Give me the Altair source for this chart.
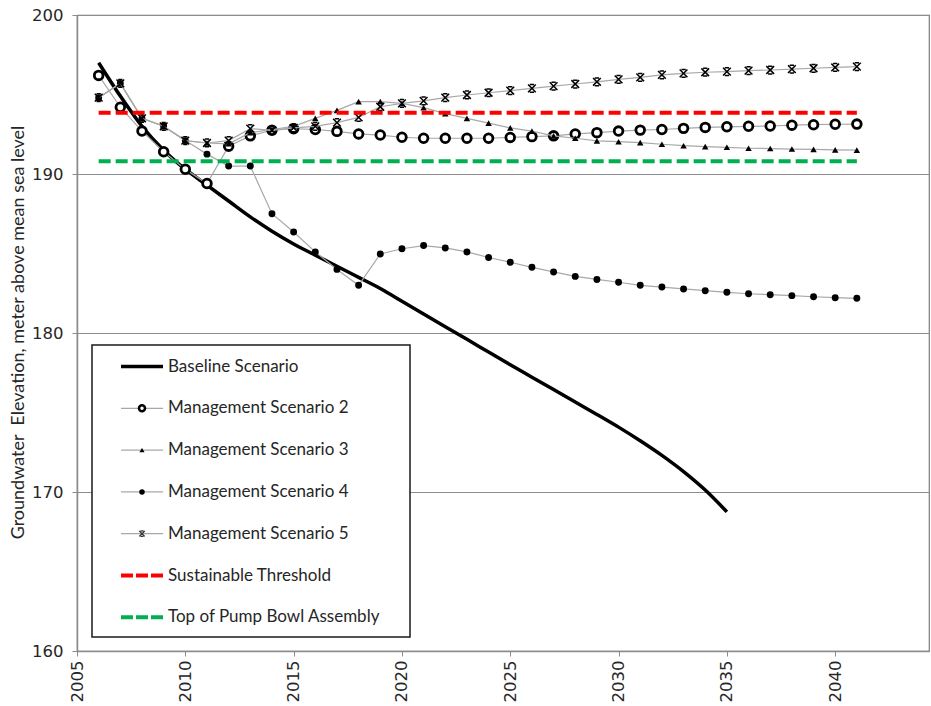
import altair as alt
import pandas as pd

# ---------------------------------------------------------------- data
years = list(range(2006, 2042))
baseline_years = list(range(2006, 2036))

baseline = [197.0, 194.9, 193.0, 191.5, 190.3, 189.3, 188.3, 187.3, 186.4, 185.6,
            184.9, 184.2, 183.5, 182.8, 182.0, 181.2, 180.4, 179.6, 178.8, 178.0,
            177.22, 176.44, 175.66, 174.88, 174.08, 173.22, 172.3, 171.28, 170.12, 168.75]

scenario2 = [196.2, 194.2, 192.7, 191.4, 190.3, 189.4, 191.75, 192.4, 192.75, 192.85,
             192.8, 192.68, 192.52, 192.45, 192.31, 192.25, 192.25, 192.25, 192.25, 192.3,
             192.35, 192.4, 192.52, 192.6, 192.7, 192.76, 192.8, 192.87, 192.93, 192.97,
             193.0, 193.02, 193.07, 193.1, 193.13, 193.14]

scenario3 = [194.8, 195.7, 193.5, 193.0, 192.1, 191.95, 191.9, 192.6, 192.8, 193.0,
             193.5, 194.0, 194.55, 194.55, 194.44, 194.17, 193.8, 193.5, 193.2, 192.9,
             192.7, 192.4, 192.25, 192.08, 192.03, 191.97, 191.87, 191.78, 191.72, 191.68,
             191.62, 191.6, 191.57, 191.55, 191.52, 191.5]

scenario4 = [194.8, 195.7, 193.5, 193.0, 192.1, 191.25, 190.5, 190.5, 187.5, 186.35,
             185.1, 184.0, 183.0, 184.97, 185.3, 185.5, 185.35, 185.1, 184.75, 184.45,
             184.13, 183.84, 183.56, 183.37, 183.19, 183.0, 182.89, 182.77, 182.66, 182.56,
             182.47, 182.41, 182.35, 182.28, 182.22, 182.18]

scenario5 = [194.8, 195.7, 193.5, 193.0, 192.1, 191.95, 192.1, 192.85, 192.75, 192.9,
             193.0, 193.23, 193.56, 194.23, 194.44, 194.6, 194.8, 194.97, 195.11, 195.24,
             195.39, 195.53, 195.66, 195.8, 195.95, 196.08, 196.23, 196.33, 196.4, 196.44,
             196.5, 196.54, 196.6, 196.65, 196.7, 196.75]

threshold_years = [2006, 2041]
sustainable_threshold = 193.85
pump_bowl_top = 190.8

x_ticks = [2005, 2010, 2015, 2020, 2025, 2030, 2035, 2040]
y_ticks = [160, 170, 180, 190, 200]

y_title = "Groundwater\u00a0 Elevation, meter above mean sea level"
legend_labels = ["Baseline Scenario", "Management Scenario 2", "Management Scenario 3",
                 "Management Scenario 4", "Management Scenario 5",
                 "Sustainable Threshold", "Top of Pump Bowl Assembly"]

# ---------------------------------------------------------------- styling
FONT = "Lato"
TICK_FONT = "DejaVu Sans"
TEXT = "#262626"
GRID = "#8c8c8c"
SERIES_LINE = "#a8a8a8"
RED = "#ff0000"
GREEN = "#00b050"
X_MARK = "M-1,-1L1,1M-1,1L1,-1M-0.55,-1H0.55M-0.55,1H0.55"

x_enc = alt.X("year:Q",
              scale=alt.Scale(domain=[2005, 2044.33], nice=False, zero=False),
              axis=alt.Axis(values=x_ticks, format="d", labelAngle=-90, grid=False,
                            title=None, labelFont=TICK_FONT, labelFontSize=16.5,
                            labelColor=TEXT, domainColor=GRID, domainWidth=1.5,
                            tickColor=GRID, tickSize=5, labelPadding=4,
                            labelBaseline="middle", labelAlign="right"))
y_enc = alt.Y("value:Q",
              scale=alt.Scale(domain=[160, 200], nice=False, zero=False),
              axis=alt.Axis(values=y_ticks, grid=True, gridColor=GRID, gridWidth=1,
                            title=y_title,
                            titleFont=FONT, titleFontSize=18, titleFontWeight="normal",
                            titleColor=TEXT, titleAngle=-90, titleX=-59, titleY=317,
                            titleAlign="center", titleBaseline="middle",
                            labelFont=TICK_FONT, labelFontSize=16.5, labelColor=TEXT,
                            domainColor=GRID, domainWidth=1.5, tickColor=GRID,
                            tickSize=5, labelPadding=9))


def frame(xs, ys):
    return pd.DataFrame({"year": xs, "value": ys})


layers = []

# baseline
layers.append(alt.Chart(frame(baseline_years, baseline)).mark_line(
    color="black", strokeWidth=3.5, interpolate="monotone").encode(x=x_enc, y=y_enc))

# management scenarios: thin grey line with black markers
scenario_marks = [
    (scenario2, dict(shape="circle", size=75, filled=False, stroke="black",
                     fill="white", fillOpacity=1, strokeWidth=2.8)),
    (scenario3, dict(shape="triangle-up", size=42, filled=True, color="black")),
    (scenario4, dict(shape="circle", size=48, filled=True, color="black")),
    (scenario5, dict(shape=X_MARK, size=60, filled=False, stroke="black",
                     strokeWidth=1.5)),
]
for values, marker in scenario_marks:
    base = alt.Chart(frame(years, values))
    layers.append(base.mark_line(color=SERIES_LINE, strokeWidth=1.2).encode(x=x_enc, y=y_enc))
    layers.append(base.mark_point(opacity=1, **marker).encode(x=x_enc, y=y_enc))

# threshold lines
for level, colour in [(sustainable_threshold, RED), (pump_bowl_top, GREEN)]:
    layers.append(alt.Chart(frame(threshold_years, [level, level])).mark_line(
        color=colour, strokeWidth=4, strokeDash=[12, 5], strokeCap="butt").encode(x=x_enc, y=y_enc))

# ---------------------------------------------------------------- legend box
one = pd.DataFrame({"k": [0]})
layers.append(alt.Chart(one).mark_rect(fill="white", stroke="#1a1a1a", strokeWidth=1.5).encode(
    x=alt.value(15), x2=alt.value(333), y=alt.value(330), y2=alt.value(622)))

row_y = [351.5 + 41.8 * i for i in range(len(legend_labels))]
sample_x0, sample_x1, marker_x, text_x = 44, 86, 65, 91

legend_samples = [
    dict(line=dict(color="black", strokeWidth=3.5), point=None),
    dict(line=dict(color=SERIES_LINE, strokeWidth=1.2),
         point=dict(shape="circle", size=36, filled=False, stroke="black", fill="white",
                    fillOpacity=1, strokeWidth=2.5)),
    dict(line=dict(color=SERIES_LINE, strokeWidth=1.2),
         point=dict(shape="triangle-up", size=26, filled=True, color="black")),
    dict(line=dict(color=SERIES_LINE, strokeWidth=1.2),
         point=dict(shape="circle", size=30, filled=True, color="black")),
    dict(line=dict(color=SERIES_LINE, strokeWidth=1.2),
         point=dict(shape=X_MARK, size=30, filled=False, stroke="#333", strokeWidth=1.2)),
    dict(line=dict(color=RED, strokeWidth=4, strokeDash=[12, 3], strokeCap="butt"), point=None),
    dict(line=dict(color=GREEN, strokeWidth=4, strokeDash=[12, 3], strokeCap="butt"), point=None),
]

for label, ry, sample in zip(legend_labels, row_y, legend_samples):
    layers.append(alt.Chart(one).mark_rule(**sample["line"]).encode(
        x=alt.value(sample_x0), x2=alt.value(sample_x1), y=alt.value(ry)))
    if sample["point"]:
        layers.append(alt.Chart(one).mark_point(opacity=1, **sample["point"]).encode(
            x=alt.value(marker_x), y=alt.value(ry)))
    layers.append(alt.Chart(one).mark_text(
        text=label, align="left", baseline="middle", font=FONT, fontSize=17,
        color=TEXT).encode(x=alt.value(text_x), y=alt.value(ry)))

chart = alt.layer(*layers).properties(
    width=852, height=636,
    padding={"left": 77, "top": 15, "right": 2, "bottom": 55},
    autosize="none",
    background="white",
).configure_view(stroke="#7a7a7a", strokeWidth=1.2)

chart.save("out.html", embed_options={"renderer": "svg", "actions": False})
